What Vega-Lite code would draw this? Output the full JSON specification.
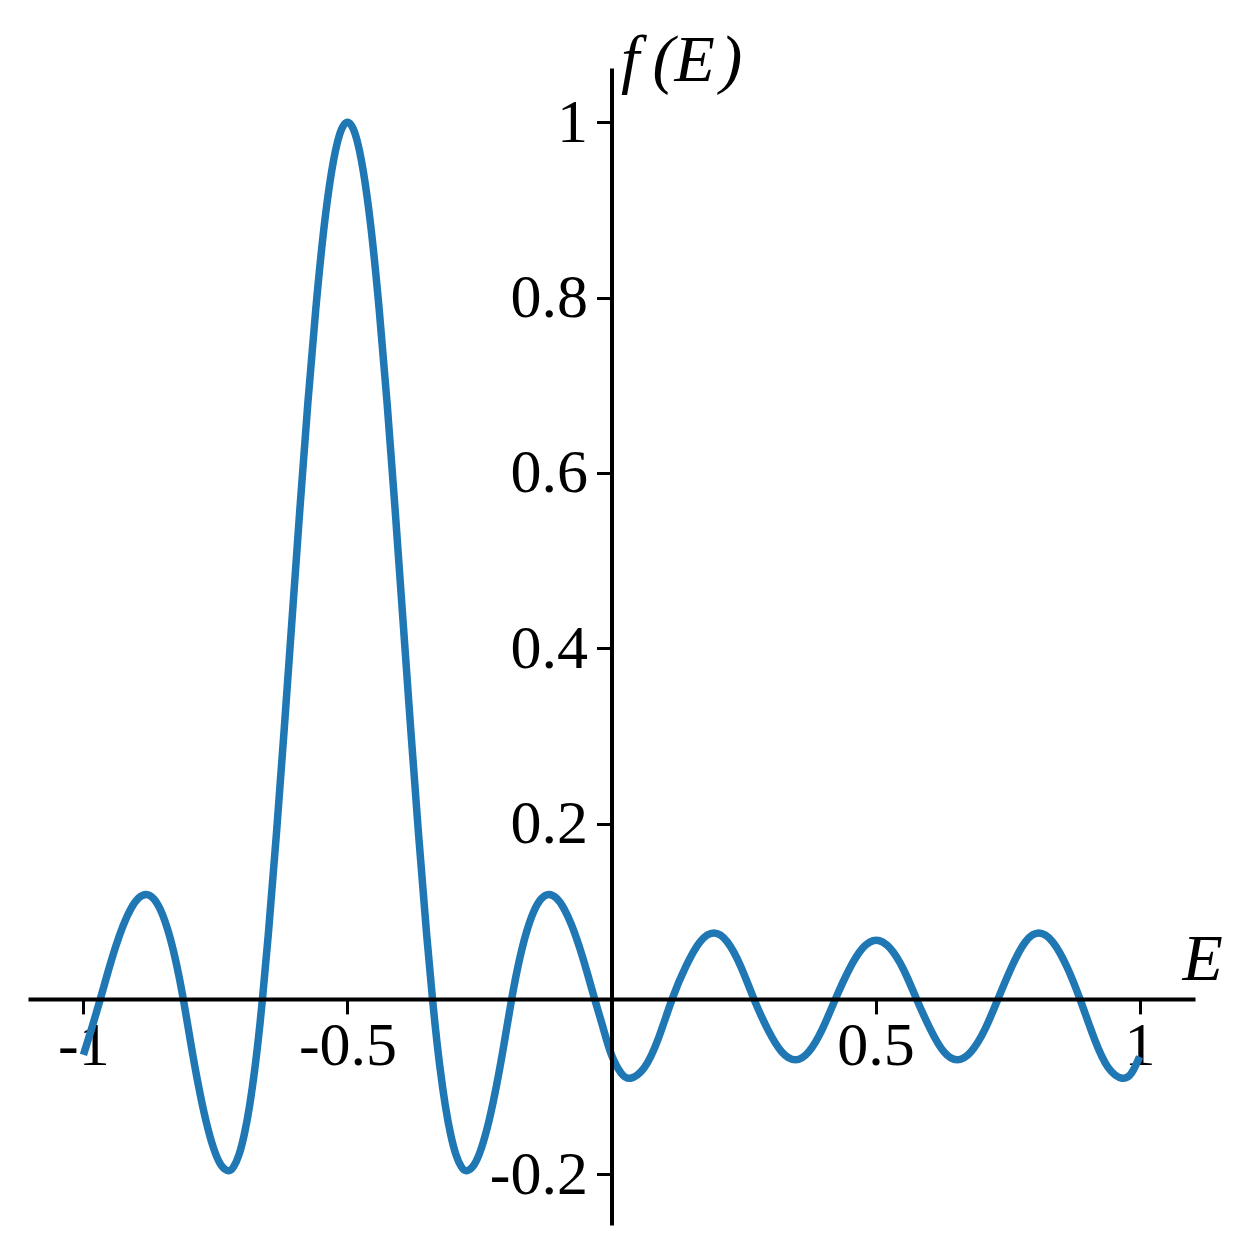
{
  "$schema": "https://vega.github.io/schema/vega-lite/v6.json",
  "width": 1167,
  "height": 1157,
  "autosize": "none",
  "padding": {"left": 28, "top": 68, "right": 65, "bottom": 29},
  "background": "white",
  "config": {
    "view": {"stroke": null},
    "font": "Liberation Serif",
    "axis": {
      "grid": false,
      "domainColor": "black",
      "domainWidth": 4,
      "tickColor": "black",
      "tickWidth": 3,
      "tickSize": 15,
      "labelColor": "black",
      "labelFont": "Liberation Serif",
      "labelFontSize": 62,
      "labelFlush": false,
      "labelOverlap": false,
      "titleFont": "Liberation Serif",
      "titleFontSize": 66,
      "titleFontStyle": "italic",
      "titleFontWeight": "normal",
      "titleColor": "black",
      "titleAngle": 0
    }
  },
  "data": {
    "values": [
      {"E": -1.0, "f": -0.064},
      {"E": -0.984, "f": -0.0328},
      {"E": -0.968, "f": 0.0},
      {"E": -0.9535, "f": 0.0308},
      {"E": -0.939, "f": 0.0595},
      {"E": -0.9245, "f": 0.0841},
      {"E": -0.91, "f": 0.103},
      {"E": -0.8955, "f": 0.115},
      {"E": -0.881, "f": 0.119},
      {"E": -0.867, "f": 0.1142},
      {"E": -0.853, "f": 0.1},
      {"E": -0.839, "f": 0.0761},
      {"E": -0.825, "f": 0.0428},
      {"E": -0.811, "f": 0.0},
      {"E": -0.7967, "f": -0.0507},
      {"E": -0.7825, "f": -0.098},
      {"E": -0.7682, "f": -0.1386},
      {"E": -0.7539, "f": -0.1697},
      {"E": -0.7397, "f": -0.1893},
      {"E": -0.7254, "f": -0.196},
      {"E": -0.7154, "f": -0.1914},
      {"E": -0.7054, "f": -0.1777},
      {"E": -0.6954, "f": -0.1546},
      {"E": -0.6854, "f": -0.122},
      {"E": -0.6754, "f": -0.0795},
      {"E": -0.6674, "f": -0.038},
      {"E": -0.661, "f": 0.0},
      {"E": -0.65, "f": 0.073},
      {"E": -0.635, "f": 0.185},
      {"E": -0.62, "f": 0.306},
      {"E": -0.605, "f": 0.433},
      {"E": -0.59, "f": 0.56},
      {"E": -0.575, "f": 0.68},
      {"E": -0.56, "f": 0.787},
      {"E": -0.545, "f": 0.877},
      {"E": -0.53, "f": 0.944},
      {"E": -0.515, "f": 0.986},
      {"E": -0.5, "f": 1.0},
      {"E": -0.485, "f": 0.986},
      {"E": -0.47, "f": 0.944},
      {"E": -0.455, "f": 0.877},
      {"E": -0.44, "f": 0.787},
      {"E": -0.425, "f": 0.68},
      {"E": -0.41, "f": 0.56},
      {"E": -0.395, "f": 0.433},
      {"E": -0.38, "f": 0.306},
      {"E": -0.365, "f": 0.185},
      {"E": -0.35, "f": 0.073},
      {"E": -0.339, "f": 0.0},
      {"E": -0.3326, "f": -0.038},
      {"E": -0.3246, "f": -0.0795},
      {"E": -0.3146, "f": -0.122},
      {"E": -0.3046, "f": -0.1546},
      {"E": -0.2946, "f": -0.1777},
      {"E": -0.2846, "f": -0.1914},
      {"E": -0.2746, "f": -0.196},
      {"E": -0.2603, "f": -0.1893},
      {"E": -0.2461, "f": -0.1697},
      {"E": -0.2318, "f": -0.1386},
      {"E": -0.2175, "f": -0.098},
      {"E": -0.2033, "f": -0.0507},
      {"E": -0.189, "f": 0.0},
      {"E": -0.175, "f": 0.0428},
      {"E": -0.161, "f": 0.0761},
      {"E": -0.147, "f": 0.1},
      {"E": -0.133, "f": 0.1142},
      {"E": -0.119, "f": 0.119},
      {"E": -0.1045, "f": 0.115},
      {"E": -0.09, "f": 0.103},
      {"E": -0.0755, "f": 0.0841},
      {"E": -0.061, "f": 0.0595},
      {"E": -0.0465, "f": 0.0308},
      {"E": -0.032, "f": 0.0},
      {"E": -0.016, "f": -0.0328},
      {"E": 0.0, "f": -0.064},
      {"E": 0.018, "f": -0.0845},
      {"E": 0.036, "f": -0.0905},
      {"E": 0.0623, "f": -0.0784},
      {"E": 0.0887, "f": -0.0453},
      {"E": 0.115, "f": 0.0},
      {"E": 0.1413, "f": 0.0375},
      {"E": 0.1677, "f": 0.065},
      {"E": 0.194, "f": 0.075},
      {"E": 0.2192, "f": 0.065},
      {"E": 0.2444, "f": 0.0375},
      {"E": 0.2696, "f": 0.0},
      {"E": 0.2959, "f": -0.0348},
      {"E": 0.3222, "f": -0.0603},
      {"E": 0.3485, "f": -0.0696},
      {"E": 0.3737, "f": -0.0603},
      {"E": 0.399, "f": -0.0348},
      {"E": 0.4242, "f": 0.0},
      {"E": 0.45, "f": 0.0335},
      {"E": 0.4757, "f": 0.058},
      {"E": 0.5015, "f": 0.067},
      {"E": 0.5273, "f": 0.058},
      {"E": 0.553, "f": 0.0335},
      {"E": 0.5775, "f": 0.0},
      {"E": 0.604, "f": -0.0348},
      {"E": 0.6293, "f": -0.0603},
      {"E": 0.6545, "f": -0.0696},
      {"E": 0.6808, "f": -0.0603},
      {"E": 0.7071, "f": -0.0348},
      {"E": 0.732, "f": 0.0},
      {"E": 0.7586, "f": 0.0375},
      {"E": 0.7838, "f": 0.065},
      {"E": 0.809, "f": 0.075},
      {"E": 0.8353, "f": 0.065},
      {"E": 0.8617, "f": 0.0375},
      {"E": 0.887, "f": 0.0},
      {"E": 0.9143, "f": -0.0453},
      {"E": 0.9407, "f": -0.0784},
      {"E": 0.967, "f": -0.0905},
      {"E": 0.985, "f": -0.0845},
      {"E": 1.0, "f": -0.066}
    ]
  },
  "encoding": {
    "x": {
      "field": "E",
      "type": "quantitative",
      "scale": {"domain": [-1.105, 1.105], "nice": false, "zero": false}
    },
    "y": {
      "field": "f",
      "type": "quantitative",
      "scale": {"domain": [-0.258, 1.062], "nice": false, "zero": false}
    }
  },
  "layer": [
    {
      "mark": {"type": "line", "color": "#1f77b4", "strokeWidth": 7.5, "interpolate": "natural", "clip": false},
      "encoding": {
        "x": {
          "field": "E",
          "type": "quantitative",
          "axis": {
            "orient": "bottom",
            "values": [-1, -0.5, 0.5, 1],
            "offset": -226.1,
            "domain": false,
            "ticks": false,
            "labelExpr": "datum.value + ''",
            "labelAlign": "center",
            "labelBaseline": "top",
            "labelPadding": 17,
            "title": "E",
            "titleAlign": "left",
            "titleBaseline": "alphabetic",
            "titleX": 1154,
            "titleY": -19,
            "zindex": 0
          }
        },
        "y": {
          "field": "f",
          "type": "quantitative",
          "axis": {
            "orient": "left",
            "values": [-0.2, 0.2, 0.4, 0.6, 0.8, 1],
            "offset": -583.5,
            "domain": false,
            "ticks": false,
            "labelExpr": "datum.value + ''",
            "labelAlign": "right",
            "labelBaseline": "middle",
            "labelPadding": 24,
            "title": "f\u2009(E\u200a)",
            "titleAlign": "left",
            "titleBaseline": "alphabetic",
            "titleX": 9,
            "titleY": 12,
            "zindex": 0
          }
        }
      }
    },
    {
      "mark": {"type": "line", "strokeOpacity": 0, "clip": false},
      "encoding": {
        "x": {
          "field": "E",
          "type": "quantitative",
          "axis": {
            "orient": "bottom",
            "values": [-1, -0.5, 0.5, 1],
            "offset": -226.1,
            "labels": false,
            "title": null,
            "zindex": 1
          }
        },
        "y": {
          "field": "f",
          "type": "quantitative",
          "axis": {
            "orient": "left",
            "values": [-0.2, 0.2, 0.4, 0.6, 0.8, 1],
            "offset": -583.5,
            "labels": false,
            "title": null,
            "zindex": 1
          }
        }
      }
    }
  ],
  "resolve": {"axis": {"x": "independent", "y": "independent"}}
}
